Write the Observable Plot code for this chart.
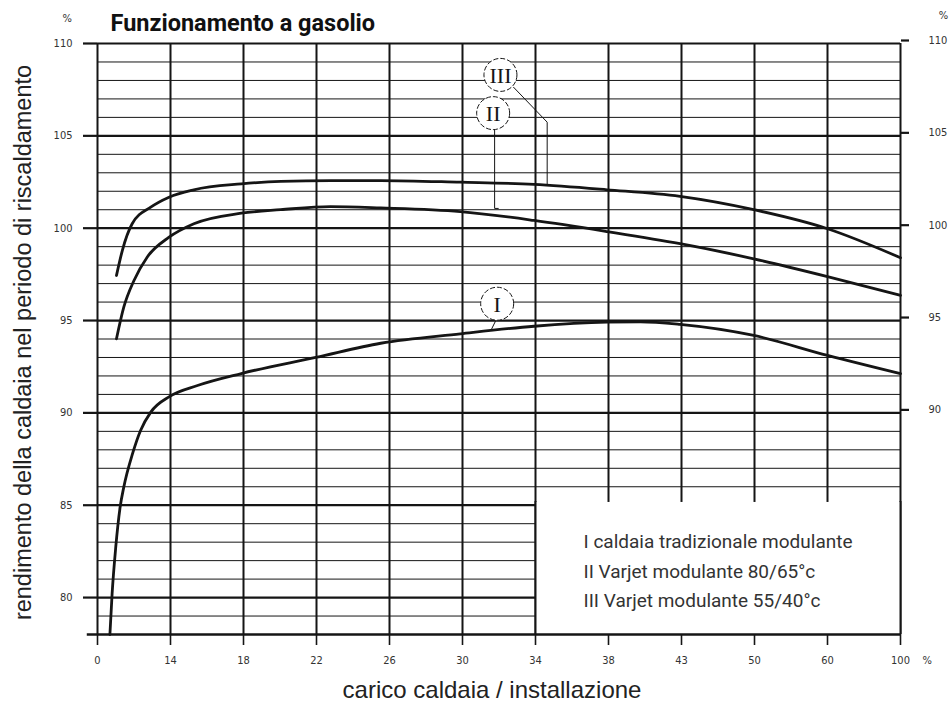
<!DOCTYPE html>
<html><head><meta charset="utf-8">
<script src="https://cdn.jsdelivr.net/npm/d3@7"></script>
<script src="https://cdn.jsdelivr.net/npm/@observablehq/plot@0.6"></script>
<style>body{margin:0;background:#fff} #chart svg{display:block}</style>
</head><body><div id="chart"></div>
<script>
// x positions are the index of the (evenly spaced) tick labels
const xLabels = ["0","14","18","22","26","30","34","38","43","50","60","100"];
const yTicksLeft = [80, 85, 90, 95, 100, 105, 110];
const yTicksRight = [90, 95, 100, 105, 110];

// Curve I – caldaia tradizionale modulante
const curveI_x = [0.17,0.20,0.25,0.31,0.36,0.48,0.59,0.73,0.99,1.37,1.97,2.99,3.88,4.97,5.98,6.98,7.44,7.98,8.99,10.0,11];
const curveI_y = [78,80.2,82.73,84.9,85.98,87.79,89.05,90.04,90.89,91.48,92.13,93.0,93.77,94.28,94.69,94.91,94.93,94.79,94.19,93.11,92.12];
// Curve II – Varjet modulante 80/65°c
const curveII_x = [0.26,0.36,0.50,0.68,0.98,1.32,1.97,2.51,3.19,3.88,4.97,5.98,6.98,7.98,8.99,10.0,11];
const curveII_y = [94.01,95.72,97.17,98.43,99.51,100.24,100.81,101.0,101.17,101.1,100.9,100.42,99.82,99.16,98.34,97.38,96.36];
// Curve III – Varjet modulante 55/40°c
const curveIII_x = [0.26,0.34,0.475,0.73,0.98,1.32,1.97,2.51,3.2,3.88,4.97,5.98,6.98,7.98,8.99,10.0,11];
const curveIII_y = [97.44,98.79,100.24,101.14,101.68,102.08,102.4,102.54,102.58,102.58,102.49,102.37,102.08,101.72,101.0,99.97,98.4];

// circled numerals and their leader lines
const markerNames = ["I", "II", "III"];
const markerX = [5.475, 5.42, 5.52];
const markerY = [95.91, 106.23, 108.3];
const leaderI_x = [5.46, 5.40];        const leaderI_y = [95.03, 94.55];
const leaderII_x = [5.44, 5.44, 5.49]; const leaderII_y = [105.4, 101.07, 101.07];
const leaderIII_x = [5.70, 6.16, 6.16];const leaderIII_y = [107.63, 105.74, 102.4];

const legendLabels = ["I caldaia tradizionale modulante", "II Varjet modulante 80/65°c", "III Varjet modulante 55/40°c"];
const titleText = "Funzionamento a gasolio";
const yTitle = "rendimento della caldaia nel periodo di riscaldamento";
const xTitle = "carico caldaia / installazione";

const pts = (xs, ys) => xs.map((x, i) => ({x, y: ys[i]}));
const xIdx = d3.range(xLabels.length);
const minorY = d3.range(79, 110).filter(v => v % 5 !== 0);
const markers = markerNames.map((n, i) => ({n, x: markerX[i], y: markerY[i]}));

const tickFont = "'DejaVu Sans Condensed', 'DejaVu Sans', sans-serif";
const ink = "#151515";
const sans = "'Liberation Sans', Arial, sans-serif";

const chart = Plot.plot({
  width: 952, height: 702,
  marginLeft: 97, marginRight: 52, marginTop: 43, marginBottom: 68,
  x: {domain: [0, 11], axis: null},
  y: {domain: [78, 110], axis: null},
  style: {background: "#fff"},
  marks: [
    // grid
    Plot.ruleY(minorY, {x1: 0, x2: 11, stroke: ink, strokeWidth: 1}),
    Plot.ruleY(yTicksLeft, {x1: 0, x2: 11, stroke: ink, strokeWidth: 2.2}),
    Plot.ruleX(xIdx, {y1: 78, y2: 110, stroke: ink, strokeWidth: 2}),
    // legend box (white)
    Plot.rect([0], {x1: 6, x2: 11, y1: 78, y2: 85.15, fill: "#fff"}),
    Plot.ruleX([6, 11], {y1: 78, y2: 85.2, stroke: ink, strokeWidth: 2}),
    Plot.ruleY([78], {x1: -0.14, x2: 11, stroke: ink, strokeWidth: 2.6}),
    // curves
    Plot.line(pts(curveI_x, curveI_y), {x: "x", y: "y", curve: "monotone-x", stroke: ink, strokeWidth: 2.8}),
    Plot.line(pts(curveII_x, curveII_y), {x: "x", y: "y", curve: "monotone-x", stroke: ink, strokeWidth: 2.8}),
    Plot.line(pts(curveIII_x, curveIII_y), {x: "x", y: "y", curve: "monotone-x", stroke: ink, strokeWidth: 2.8}),
    // leaders
    Plot.line(pts(leaderI_x, leaderI_y), {x: "x", y: "y", stroke: ink, strokeWidth: 1}),
    Plot.line(pts(leaderII_x, leaderII_y), {x: "x", y: "y", stroke: ink, strokeWidth: 1}),
    Plot.line(pts(leaderIII_x, leaderIII_y), {x: "x", y: "y", stroke: ink, strokeWidth: 1}),
    // circled numerals
    Plot.dot(markers, {x: "x", y: "y", r: 16.5, fill: "#fff", stroke: ink, strokeWidth: 1, strokeDasharray: "5,2"}),
    Plot.text(markers, {x: "x", y: "y", text: "n", fontSize: 22, fontFamily: "'Liberation Serif', serif", letterSpacing: -3, fill: ink, dy: 1}),
    // legend text
    Plot.text(legendLabels, {x: 6, y: (d, i) => 83.0 - i * 1.6, dx: 48, text: d => d, textAnchor: "start", lineAnchor: "middle", fontSize: 19, fontFamily: "Roboto, sans-serif", fill: "#333"}),
    // axes
    Plot.axisX({anchor: "bottom", label: null, ticks: xIdx, tickFormat: d => xLabels[d], tickSize: 11, tickPadding: 11, strokeWidth: 1.6, stroke: ink, fontSize: 11, fontFamily: tickFont, fill: "#333"}),
    Plot.axisY({anchor: "left", label: null, ticks: yTicksLeft, tickSize: 14, tickPadding: 11, strokeWidth: 2.2, stroke: ink, fontSize: 11, fontFamily: tickFont, fill: "#333"}),
    Plot.axisY({anchor: "right", label: null, ticks: yTicksRight, tickSize: 8, tickPadding: 20, strokeWidth: 2.2, stroke: ink, fontSize: 11, fontFamily: tickFont, fill: "#333", dy: -3}),
    Plot.text(["%"], {frameAnchor: "top-left", dx: -35, dy: -25, lineAnchor: "middle", textAnchor: "start", text: d => d, fontSize: 11, fontFamily: tickFont, fill: "#333"}),
    Plot.text(["%"], {frameAnchor: "top-right", dx: 43, dy: -28, lineAnchor: "middle", textAnchor: "middle", text: d => d, fontSize: 11, fontFamily: tickFont, fill: "#333"}),
    Plot.text(["%"], {frameAnchor: "bottom-right", dx: 22, dy: 26, lineAnchor: "middle", textAnchor: "start", text: d => d, fontSize: 11, fontFamily: tickFont, fill: "#333"}),
    // titles
    Plot.text([titleText], {frameAnchor: "top-left", dx: 13, dy: -20, lineAnchor: "middle", text: d => d, textAnchor: "start", fontSize: 23.5, letterSpacing: 0.6, fontWeight: "bold", fontFamily: "Roboto, sans-serif", fill: "#111"}),
    Plot.text([yTitle], {frameAnchor: "left", dx: -74, dy: 3.5, rotate: -90, textAnchor: "middle", lineAnchor: "middle", text: d => d, fontSize: 23.5, fontFamily: sans, fill: "#222"}),
    Plot.text([xTitle], {frameAnchor: "bottom", dx: -7, dy: 56, textAnchor: "middle", lineAnchor: "middle", text: d => d, fontSize: 24, fontFamily: sans, fill: "#222"})
  ]
});
document.getElementById("chart").appendChild(chart);
</script>
</body></html>
